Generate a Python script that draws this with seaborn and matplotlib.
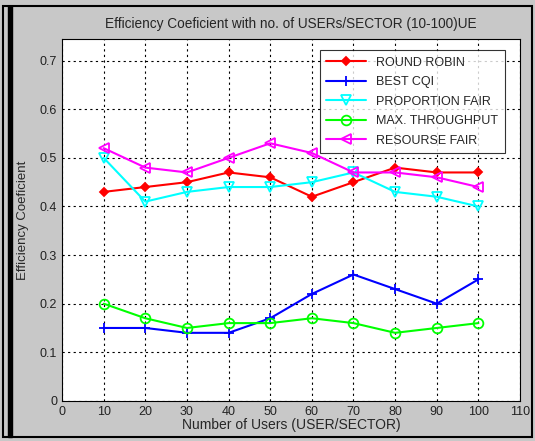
import numpy as np
import pandas as pd
import matplotlib
matplotlib.use('Agg')
import matplotlib.pyplot as plt
import seaborn as sns
from matplotlib.patches import Rectangle

# Data
users = [10, 20, 30, 40, 50, 60, 70, 80, 90, 100]
round_robin = [0.43, 0.44, 0.45, 0.47, 0.46, 0.42, 0.45, 0.48, 0.47, 0.47]
best_cqi = [0.15, 0.15, 0.14, 0.14, 0.17, 0.22, 0.26, 0.23, 0.20, 0.25]
proportion_fair = [0.50, 0.41, 0.43, 0.44, 0.44, 0.45, 0.47, 0.43, 0.42, 0.40]
max_throughput = [0.20, 0.17, 0.15, 0.16, 0.16, 0.17, 0.16, 0.14, 0.15, 0.16]
resourse_fair = [0.52, 0.48, 0.47, 0.50, 0.53, 0.51, 0.47, 0.47, 0.46, 0.44]

series_names = ['ROUND ROBIN', 'BEST CQI', 'PROPORTION FAIR', 'MAX. THROUGHPUT', 'RESOURSE FAIR']
series_vals = [round_robin, best_cqi, proportion_fair, max_throughput, resourse_fair]
colors = ['#ff0000', '#0000ff', '#00ffff', '#00ff00', '#ff00ff']
markers = ['D', '+', 'v', 'o', '<']

df = pd.concat([pd.DataFrame({'users': users, 'value': v, 'scheme': n})
                for n, v in zip(series_names, series_vals)])

sns.set_style('white')
plt.rcParams['font.family'] = ['Liberation Sans', 'DejaVu Sans']

bg = '#c8c8c8'
fig = plt.figure(figsize=(5.35, 4.41), dpi=100, facecolor=bg)
ax = fig.add_axes([0.116, 0.091, 0.856, 0.821])

for name, col, mk in zip(series_names, colors, markers):
    sub = df[df['scheme'] == name]
    filled = mk in ('D', '+')
    sns.lineplot(data=sub, x='users', y='value', ax=ax, color=col, linewidth=1.5,
                 marker=mk, markersize=4 if mk == 'D' else 7,
                 markerfacecolor=col if filled else 'none',
                 markeredgecolor=col, markeredgewidth=1.3, label=name)

ax.set_xlim(0, 110)
ax.set_ylim(0, 0.745)
ax.set_xticks(np.arange(0, 111, 10))
ax.set_yticks(np.arange(0, 0.71, 0.1))
ax.set_yticklabels(['0'] + ['%.1f' % t for t in np.arange(0.1, 0.71, 0.1)])
ax.tick_params(labelsize=9, colors='#222222', length=3, direction='in')
ax.grid(True, linestyle=(0, (2, 3)), color='black', linewidth=0.8)
for s in ax.spines.values():
    s.set_color('black')
    s.set_linewidth(0.8)

ax.set_title('Efficiency Coeficient with no. of USERs/SECTOR (10-100)UE', fontsize=9.8, pad=8)
ax.set_xlabel('Number of Users (USER/SECTOR)', fontsize=10, labelpad=0)
ax.set_ylabel('Efficiency Coeficient', fontsize=9.5, labelpad=8)

leg = ax.legend(loc='upper right', fontsize=9, frameon=True, fancybox=False,
                edgecolor='black', handlelength=3.2, borderpad=0.5,
                labelspacing=0.6, bbox_to_anchor=(0.98, 0.985))
leg.get_frame().set_linewidth(0.8)

# outer frame like the screenshot
fig.patches.append(Rectangle((0.005, 0.008), 0.99, 0.978, transform=fig.transFigure,
                             fill=False, edgecolor='black', linewidth=1.5))
fig.patches.append(Rectangle((0.015, 0.008), 0.008, 0.978, transform=fig.transFigure,
                             color='black'))

fig.savefig('out.png', dpi=100, facecolor=bg)
